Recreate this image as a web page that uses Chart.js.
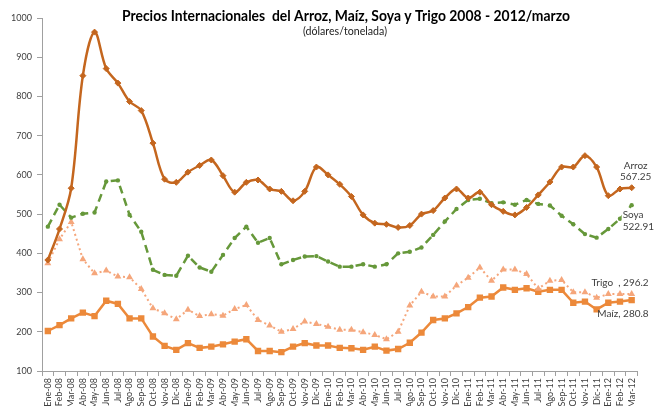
<!DOCTYPE html>
<html>
<head>
<meta charset="utf-8">
<script src="https://cdn.jsdelivr.net/npm/chart.js"></script>
<style>
  body { margin: 0; background: #ffffff; }
</style>
</head>
<body>
<canvas id="lineChart" width="661" height="406"></canvas>
<script>
const labels = ['Ene-08','Feb-08','Mar-08','Abr-08','May-08','Jun-08','Jul-08','Ago-08','Sep-08','Oct-08','Nov-08','Dic-08',
  'Ene-09','Feb-09','Mar-09','Abr-09','May-09','Jun-09','Jul-09','Ago-09','Sep-09','Oct-09','Nov-09','Dic-09',
  'Ene-10','Feb-10','Mar-10','Abr-10','May-10','Jun-10','Jul-10','Ago-10','Sep-10','Oct-10','Nov-10','Dic-10',
  'Ene-11','Feb-11','Mar-11','Abr-11','May-11','Jun-11','Jul-11','Ago-11','Sep-11','Oct-11','Nov-11','Dic-11',
  'Ene-12','Feb-12','Mar-12'];

const arroz = [383,462,566,853,964,871,834,787,764,681,589,581,607,624,638,598,556,581,587,564,558,534,558,620,600,
  576,545,498,477,474,466,471,500,509,541,564,541,556,524,507,498,517,549,582,620,620,649,620,547,564,567.25];
const soya = [468,524,491,501,504,583,586,498,455,358,345,343,394,364,353,396,439,468,427,439,372,383,392,393,379,
  366,366,372,366,372,400,404,415,447,481,513,536,539,528,530,524,536,526,522,496,474,449,440,462,488,522.91];
const trigo = [375,436,480,385,349,356,341,339,309,260,247,232,256,240,245,241,258,268,230,216,200,207,226,220,213,
  205,205,199,192,181,200,267,302,290,290,318,338,364,330,359,359,347,310,330,332,301,301,287,296,296,296.2];
const maiz = [202,217,234,249,240,279,271,234,234,188,164,154,171,159,162,168,175,181,151,151,148,162,171,165,165,
  159,158,154,162,152,156,172,198,230,234,247,263,287,290,313,307,311,302,307,307,274,277,257,274,277,280.8];

const yTicks = [100,200,300,400,500,600,700,800,900,1000];
const title = 'Precios Internacionales  del Arroz, Maíz, Soya y Trigo 2008 - 2012/marzo';
const subtitle = '(dólares/tonelada)';

// text drawn next to the last point of each series
const endLabels = [
  ['Arroz', '567.25'],
  ['Soya', '522.91'],
  ['Trigo  , 296.2'],
  ['Maíz, 280.8']
];

// draw text from x0 so that it spans exactly `width` pixels
function spanText(ctx, text, x0, y, width) {
  const w = ctx.measureText(text).width;
  ctx.save();
  ctx.translate(x0, y);
  ctx.scale(width / w, 1);
  ctx.textAlign = 'left';
  ctx.fillText(text, 0, 0);
  ctx.restore();
}

const textPlugin = {
  id: 'texts',
  afterDraw(chart) {
    const ctx = chart.ctx;
    const xs = chart.scales.x, ys = chart.scales.y;
    const last = labels.length - 1;
    const px = xs.getPixelForValue(last);
    ctx.save();
    ctx.textBaseline = 'middle';
    ctx.fillStyle = '#000000';
    ctx.font = 'bold 15px Lato';
    spanText(ctx, title, 122, 16, 448);
    ctx.font = '10.5px Lato';
    ctx.fillStyle = '#222222';
    spanText(ctx, subtitle, 303, 32, 84);

    ctx.font = '10px Lato';
    ctx.fillStyle = '#404040';
    // Arroz
    let py = ys.getPixelForValue(arroz[last]);
    ctx.textAlign = 'center';
    ctx.fillText(endLabels[0][0], px + 4, py - 22);
    ctx.fillText(endLabels[0][1], px + 4, py - 11);
    // Soya
    py = ys.getPixelForValue(soya[last]);
    ctx.fillStyle = '#ffffff';
    ctx.fillRect(px - 10, py + 4, 29, 28);
    ctx.fillStyle = '#404040';
    ctx.textAlign = 'left';
    ctx.fillText(endLabels[1][0], px - 9, py + 10);
    ctx.fillText(endLabels[1][1], px - 9, py + 22);
    // Trigo
    py = ys.getPixelForValue(trigo[last]);
    ctx.textAlign = 'right';
    ctx.fillText(endLabels[2][0], px + 17, py - 11);
    // Maíz
    py = ys.getPixelForValue(maiz[last]);
    ctx.fillText(endLabels[3][0], px + 17, py + 14);
    ctx.restore();
  }
};

const ctxL = document.getElementById('lineChart').getContext('2d');
const myLineChart = new Chart(ctxL, {
  type: 'line',
  data: {
    labels: labels,
    datasets: [{
      label: 'Arroz',
      data: arroz,
      borderColor: '#c4661e',
      backgroundColor: '#c4661e',
      borderWidth: 2.5,
      tension: 0.35,
      pointStyle: 'rectRot',
      pointRadius: 3,
      pointBorderWidth: 1
    }, {
      label: 'Soya',
      data: soya,
      borderColor: '#66983a',
      backgroundColor: '#66983a',
      borderWidth: 2.5,
      borderDash: [8, 5],
      tension: 0,
      pointStyle: 'circle',
      pointRadius: 2.2,
      pointBorderWidth: 0
    }, {
      label: 'Trigo',
      data: trigo,
      borderColor: '#f5a67b',
      backgroundColor: '#f5a67b',
      borderWidth: 2,
      borderDash: [2, 3],
      tension: 0,
      pointStyle: 'triangle',
      pointRadius: 4,
      pointBorderWidth: 0
    }, {
      label: 'Maíz',
      data: maiz,
      borderColor: '#ec893a',
      backgroundColor: '#ec893a',
      borderWidth: 2.5,
      tension: 0,
      pointStyle: 'rect',
      pointRadius: 4.5,
      pointBorderWidth: 0
    }]
  },
  options: {
    responsive: false,
    animation: false,
    layout: { padding: { top: 18, right: 23.5, bottom: 0, left: 0 } },
    plugins: {
      legend: { display: false },
      tooltip: { enabled: false },
      title: { display: false }
    },
    scales: {
      x: {
        offset: true,
        afterFit(scale) { scale.height = 35; },
        border: { display: true, color: '#a0a0a0', width: 1 },
        grid: { display: true, offset: true, drawOnChartArea: false, drawTicks: true, tickLength: 5, color: '#a0a0a0' },
        ticks: {
          autoSkip: false, minRotation: 90, maxRotation: 90, padding: 2,
          color: '#404040', font: { family: 'Lato', size: 9 }
        }
      },
      y: {
        min: 100,
        max: 1000,
        afterFit(scale) { scale.width = 42; },
        afterBuildTicks(scale) { scale.ticks = yTicks.map(v => ({ value: v })); },
        border: { display: true, color: '#a0a0a0', width: 1 },
        grid: { display: true, drawOnChartArea: false, drawTicks: true, tickLength: 5, color: '#a0a0a0' },
        ticks: {
          padding: 5, color: '#404040', font: { family: 'Lato', size: 9 },
          callback: v => String(v)
        }
      }
    }
  },
  plugins: [textPlugin]
});
</script>
</body>
</html>
